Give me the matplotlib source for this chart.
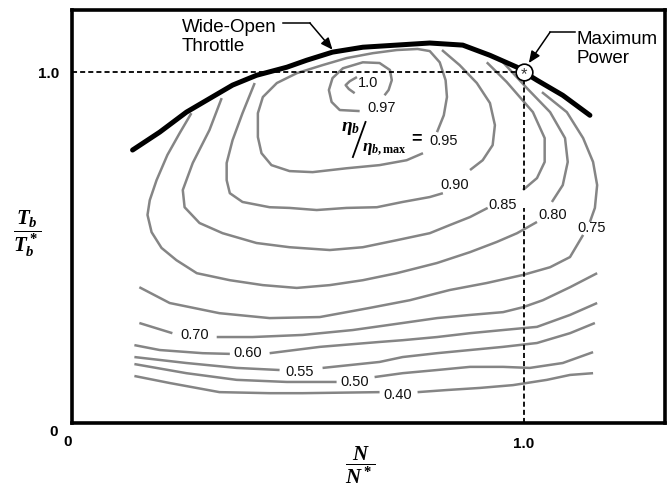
import matplotlib
matplotlib.use("Agg")
import matplotlib.pyplot as plt

plt.rcParams["font.family"] = ["Liberation Sans", "DejaVu Sans"]
plt.rcParams["mathtext.fontset"] = "custom"
plt.rcParams["mathtext.it"] = "Liberation Serif:italic:bold"
plt.rcParams["mathtext.rm"] = "Liberation Serif:bold"
plt.rcParams["mathtext.bf"] = "Liberation Serif:bold"

# wide-open throttle curve (N/N*, Tb/Tb*)
wot_x = [0.135, 0.195, 0.254, 0.299, 0.356, 0.409, 0.476, 0.520, 0.577, 0.644,
         0.792, 0.865, 0.925, 0.985, 1.000, 1.029, 1.086, 1.146]
wot_y = [0.778, 0.829, 0.886, 0.920, 0.963, 0.991, 1.014, 1.034, 1.057, 1.071,
         1.083, 1.077, 1.048, 1.014, 1.000, 0.977, 0.934, 0.877]

# efficiency contours eta_b / eta_b,max, split where a label breaks the line
c100_x = [0.631, 0.615, 0.606, 0.613, 0.626]
c100_y = [0.986, 0.974, 0.963, 0.952, 0.940]

c097_x = [0.637, 0.593, 0.575, 0.569, 0.577, 0.600, 0.644, 0.681, 0.704, 0.708, 0.701, 0.692]
c097_y = [0.889, 0.892, 0.915, 0.949, 0.983, 1.011, 1.028, 1.026, 1.006, 0.977, 0.949, 0.934]

c095_x = [0.777, 0.741, 0.681, 0.608, 0.533, 0.482, 0.442, 0.420, 0.412, 0.412, 0.423, 0.454,
          0.498, 0.555, 0.608, 0.666, 0.719, 0.765, 0.792, 0.814, 0.827, 0.830, 0.823, 0.808]
c095_y = [0.769, 0.749, 0.735, 0.726, 0.715, 0.718, 0.735, 0.769, 0.815, 0.883, 0.929, 0.969,
          0.997, 1.020, 1.040, 1.054, 1.063, 1.066, 1.060, 1.028, 0.977, 0.929, 0.877, 0.829]

c090a_x = [0.405, 0.378, 0.356, 0.343, 0.343, 0.350, 0.378, 0.438, 0.482, 0.542, 0.608, 0.675,
           0.732, 0.792, 0.821]
c090a_y = [0.969, 0.883, 0.806, 0.741, 0.692, 0.655, 0.630, 0.615, 0.613, 0.607, 0.613, 0.615,
           0.630, 0.644, 0.655]
c090b_x = [0.881, 0.909, 0.931, 0.936, 0.925, 0.896, 0.858, 0.819]
c090b_y = [0.721, 0.749, 0.792, 0.849, 0.912, 0.969, 1.020, 1.063]

c085a_x = [0.332, 0.305, 0.268, 0.246, 0.250, 0.283, 0.334, 0.409, 0.482, 0.571, 0.644, 0.719,
           0.792, 0.836, 0.881, 0.920]
c085a_y = [0.926, 0.835, 0.741, 0.664, 0.615, 0.570, 0.541, 0.513, 0.501, 0.493, 0.501, 0.521,
           0.541, 0.564, 0.587, 0.613]
c085b_x = [0.998, 1.029, 1.046, 1.046, 1.020, 0.962, 0.918]
c085b_y = [0.664, 0.698, 0.744, 0.812, 0.886, 0.972, 1.028]

c080a_x = [0.265, 0.239, 0.212, 0.188, 0.173, 0.168, 0.177, 0.199, 0.232, 0.277, 0.350, 0.423,
           0.498, 0.571, 0.644, 0.719, 0.808, 0.881, 0.940, 0.985, 1.029]
c080a_y = [0.883, 0.826, 0.764, 0.692, 0.635, 0.593, 0.544, 0.499, 0.464, 0.427, 0.407, 0.393,
           0.385, 0.393, 0.407, 0.427, 0.456, 0.487, 0.516, 0.541, 0.573]
c080b_x = [1.062, 1.086, 1.097, 1.091, 1.058, 1.007, 0.954]
c080b_y = [0.630, 0.678, 0.744, 0.812, 0.886, 0.954, 1.028]

c075a_x = [1.040, 1.095, 1.131, 1.153, 1.162, 1.157, 1.146]
c075a_y = [0.943, 0.886, 0.812, 0.744, 0.678, 0.613, 0.573]
c075b_x = [1.131, 1.102, 1.058, 0.998, 0.918, 0.836, 0.748, 0.659, 0.549, 0.438, 0.327, 0.217, 0.150]
c075b_y = [0.536, 0.473, 0.444, 0.422, 0.399, 0.379, 0.350, 0.328, 0.302, 0.299, 0.313, 0.342, 0.387]

c070a_x = [0.150, 0.223]
c070a_y = [0.285, 0.256]
c070b_x = [0.321, 0.400, 0.511, 0.622, 0.732, 0.808, 0.881, 0.954, 0.998, 1.042, 1.102, 1.162]
c070b_y = [0.245, 0.245, 0.251, 0.265, 0.285, 0.299, 0.308, 0.316, 0.330, 0.350, 0.387, 0.427]

c060a_x = [0.139, 0.195, 0.290, 0.350]
c060a_y = [0.222, 0.208, 0.199, 0.197]
c060b_x = [0.438, 0.549, 0.681, 0.732, 0.808, 0.881, 0.954, 1.029, 1.102, 1.162]
c060b_y = [0.199, 0.217, 0.231, 0.236, 0.245, 0.256, 0.265, 0.274, 0.308, 0.342]

c055a_x = [0.139, 0.254, 0.365, 0.460]
c055a_y = [0.188, 0.171, 0.157, 0.151]
c055b_x = [0.555, 0.681, 0.732, 0.808, 0.881, 0.954, 1.029, 1.102, 1.157]
c055b_y = [0.157, 0.174, 0.188, 0.199, 0.208, 0.217, 0.228, 0.256, 0.285]

c050a_x = [0.139, 0.254, 0.365, 0.476, 0.586]
c050a_y = [0.168, 0.142, 0.123, 0.117, 0.117]
c050b_x = [0.670, 0.732, 0.808, 0.881, 0.954, 1.013, 1.086, 1.153]
c050b_y = [0.131, 0.142, 0.151, 0.160, 0.160, 0.157, 0.171, 0.202]

c040a_x = [0.139, 0.217, 0.327, 0.438, 0.511, 0.681]
c040a_y = [0.134, 0.114, 0.088, 0.085, 0.085, 0.088]
c040b_x = [0.765, 0.830, 0.903, 0.976, 1.051, 1.102, 1.153]
c040b_y = [0.088, 0.094, 0.100, 0.108, 0.123, 0.137, 0.142]

label_text = ["1.0", "0.97", "0.95", "0.90", "0.85", "0.80", "0.75",
              "0.70", "0.60", "0.55", "0.50", "0.40"]
label_x = [0.655, 0.686, 0.822, 0.847, 0.954, 1.064, 1.150, 0.272, 0.389, 0.504, 0.626, 0.721]
label_y = [0.969, 0.897, 0.804, 0.678, 0.621, 0.593, 0.556, 0.251, 0.199, 0.145, 0.117, 0.080]

max_power = (1.0, 1.0)

GRAY = "#858585"

segments = [
    (c100_x, c100_y), (c097_x, c097_y), (c095_x, c095_y),
    (c090a_x, c090a_y), (c090b_x, c090b_y),
    (c085a_x, c085a_y), (c085b_x, c085b_y),
    (c080a_x, c080a_y), (c080b_x, c080b_y),
    (c075a_x, c075a_y), (c075b_x, c075b_y),
    (c070a_x, c070a_y), (c070b_x, c070b_y),
    (c060a_x, c060a_y), (c060b_x, c060b_y),
    (c055a_x, c055a_y), (c055b_x, c055b_y),
    (c050a_x, c050a_y), (c050b_x, c050b_y),
    (c040a_x, c040a_y), (c040b_x, c040b_y),
]

fig = plt.figure(figsize=(6.67, 4.87), dpi=100)
ax = fig.add_axes([0.1072, 0.1314, 0.8898, 0.8480])
ax.set_xlim(0, 1.312)
ax.set_ylim(0, 1.177)

for xs, ys in segments:
    ax.plot(xs, ys, color=GRAY, lw=1.8, solid_capstyle="butt", solid_joinstyle="round")

for txt, lx, ly in zip(label_text, label_x, label_y):
    ax.text(lx, ly, txt, fontsize=10.5, color="#111111", ha="center", va="center")

# dashed reference lines through maximum power point
dash = dict(color="black", lw=1.3, dashes=(2.8, 1.7))
ax.plot([0, max_power[0]], [max_power[1], max_power[1]], **dash)
ax.plot([max_power[0], max_power[0]], [0, 0.612], **dash)
ax.plot([max_power[0], max_power[0]], [0.664, max_power[1]], **dash)

ax.plot(wot_x, wot_y, color="black", lw=3.6, solid_capstyle="round", zorder=4)

ax.plot(*max_power, marker="o", ms=12, mfc="white", mec="black", mew=1.2, zorder=5)
ax.text(max_power[0], max_power[1] - 0.006, "*", fontsize=12, ha="center", va="center",
        color="#333333", zorder=6)

# callouts
ax.text(0.243, 1.101, "Wide-Open\nThrottle", fontsize=13.5, ha="left", va="center",
        linespacing=1.15)
ax.plot([0.467, 0.527], [1.140, 1.140], color="black", lw=1.1)
ax.annotate("", xy=(0.577, 1.064), xytext=(0.527, 1.140),
            arrowprops=dict(arrowstyle="-|>,head_length=0.7,head_width=0.3",
                            color="black", lw=1.1, shrinkA=0, shrinkB=0))

ax.text(1.117, 1.067, "Maximum\nPower", fontsize=13.5, ha="left", va="center",
        linespacing=1.15)
ax.plot([1.058, 1.113], [1.114, 1.114], color="black", lw=1.1)
ax.annotate("", xy=(1.011, 1.026), xytext=(1.058, 1.114),
            arrowprops=dict(arrowstyle="-|>,head_length=0.7,head_width=0.3",
                            color="black", lw=1.1, shrinkA=0, shrinkB=0))

# eta_b / eta_b,max annotation
ax.text(0.617, 0.838, r"$\eta_b$", fontsize=14, ha="center", va="center")
ax.plot([0.622, 0.650], [0.758, 0.858], color="black", lw=1.3)
ax.text(0.692, 0.781, r"$\eta_{b,\mathrm{max}}$", fontsize=12.5, ha="center", va="center")
ax.text(0.762, 0.810, "=", fontsize=13, fontweight="bold", ha="center", va="center")

# axes frame and ticks
for sp in ax.spines.values():
    sp.set_linewidth(2.6)
ax.set_xticks([1.0])
ax.set_xticklabels(["1.0"], fontsize=11, fontweight="bold")
ax.set_yticks([1.0])
ax.set_yticklabels(["1.0"], fontsize=11, fontweight="bold")
ax.tick_params(length=0)
ax.tick_params(axis="x", pad=10)
ax.tick_params(axis="y", pad=9)
ax.text(-0.008, -0.055, "0", fontsize=11, fontweight="bold", ha="center", va="center",
        clip_on=False)
ax.text(-0.04, -0.025, "0", fontsize=11, fontweight="bold", ha="center", va="center",
        clip_on=False)

fig.text(0.041, 0.52, r"$\dfrac{T_b}{T_b^*}$", fontsize=15, ha="center", va="center")
fig.text(0.541, 0.045, r"$\dfrac{N}{N^*}$", fontsize=15, ha="center", va="center")

fig.savefig("out.png", dpi=100)
